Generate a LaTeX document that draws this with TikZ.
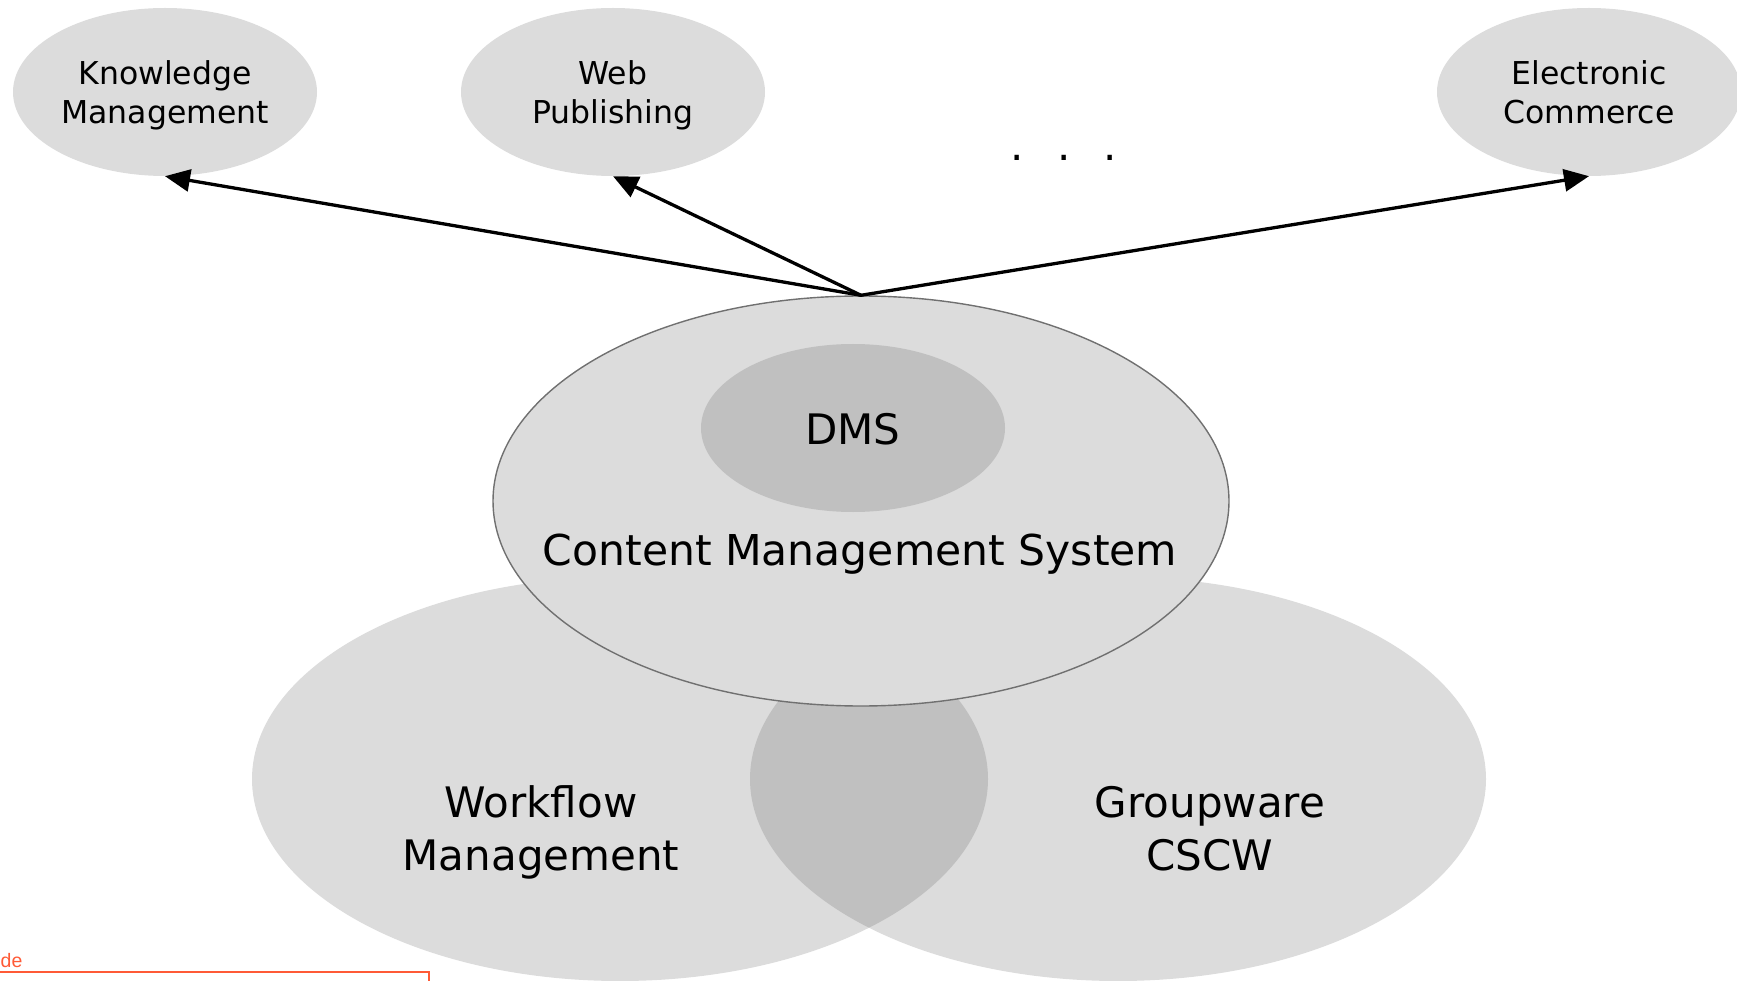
\documentclass[tikz,border=0pt]{standalone}
\usepackage{fontspec}
\setmainfont{DejaVu Sans}
\newfontfamily\notefont{Liberation Sans}
\usetikzlibrary{shapes.geometric,arrows.meta}
\definecolor{lightg}{HTML}{DCDCDC}
\definecolor{darkg}{HTML}{C0C0C0}
\definecolor{rimg}{HTML}{707070}
\definecolor{notered}{HTML}{FF5A36}
\newcommand\toptop{\rule{0pt}{32.5pt}}
\newcommand\topbot{\rule[-8pt]{0pt}{8pt}}
\newcommand\bigtop{\rule{0pt}{32pt}}
\newcommand\bigbot{\rule[-10pt]{0pt}{10pt}}
\tikzset{
  topic/.style={ellipse, fill=lightg, minimum width=304pt, minimum height=168pt,
    inner sep=0pt, align=center, font=\fontsize{31.5}{38.5}\selectfont},
  bigtext/.style={inner sep=0pt, align=center, font=\fontsize{42}{53}\selectfont},
  link/.style={line width=3.3pt, -{Triangle[length=25pt,width=22pt]}},
  area/.style={x radius=368pt, y radius=202pt},
}
\begin{document}
\begin{tikzpicture}[x=1pt,y=-1pt]
\useasboundingbox (0,0) rectangle (1737,981);
% lower overlapping areas
\coordinate (wfc) at (620,779);
\coordinate (gwc) at (1118,779);
\fill[lightg] (wfc) ellipse [area];
\fill[lightg] (gwc) ellipse [area];
\begin{scope}
  \clip (wfc) ellipse [area];
  \fill[darkg] (gwc) ellipse [area];
\end{scope}
\node[bigtext] (wftext) at (541,832.5) {\bigtop Workflow\\Management\bigbot};
\node[bigtext] (gwtext) at (1210,832.5) {\bigtop Groupware\\CSCW\bigbot};
% content management system
\node[ellipse, fill=lightg, draw=rimg, line width=1.4pt, minimum width=736pt,
  minimum height=410pt, inner sep=0pt] (cms) at (861,501) {};
\node[bigtext, anchor=base, font=\fontsize{42.5}{53}\selectfont] (cmstext) at (860,565)
  {Content Management System};
\node[ellipse, fill=darkg, minimum width=304pt, minimum height=168pt, inner sep=0pt,
  font=\fontsize{42}{53}\selectfont] (dms) at (853,428) {\rule{0pt}{34pt}DMS};
% application areas
\node[topic] (km) at (165,92) {\toptop Knowledge\\Management\topbot};
\node[topic] (wp) at (613,92) {\toptop Web\\Publishing\topbot};
\node[topic] (ec) at (1589,92) {\toptop Electronic\\Commerce\topbot};
\node[anchor=base, inner sep=0pt, font=\fontsize{42}{53}\selectfont] (more) at (1064,160.5)
  {.\hspace{33pt}.\hspace{33pt}.};
\draw[link] (cms.north) -- (km.south);
\draw[link] (cms.north) -- (wp.south);
\draw[link] (cms.north) -- (ec.south);
% fragment of a note box at the lower left
\draw[notered, line width=1.3pt] (-20,972) -- (429,972) -- (429,1000);
\node[anchor=base west, inner sep=0pt, text=notered, font=\notefont\fontsize{19.5}{23}\selectfont]
  (note) at (0.5,967) {de};
\end{tikzpicture}
\end{document}
